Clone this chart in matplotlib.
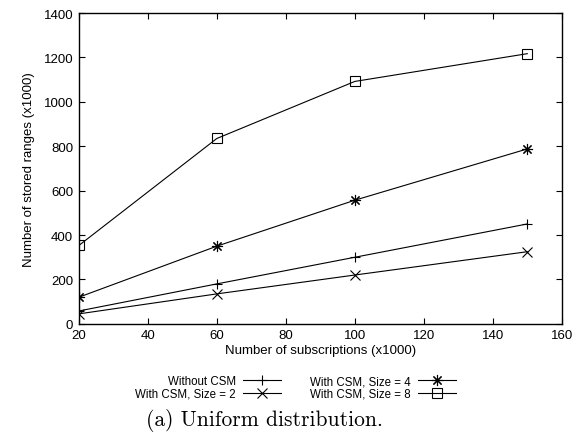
import matplotlib
matplotlib.use("Agg")
import matplotlib.pyplot as plt

# subscriptions (x1000)
subs = [20, 60, 100, 150]

# stored ranges (x1000)
sem_csm = [58, 180, 300, 450]
csm_2 = [45, 135, 220, 325]
csm_4 = [120, 350, 557, 788]
csm_8 = [353, 835, 1092, 1217]

series = [
    ("Without CSM", sem_csm, "+", 7.5),
    ("With CSM, Size = 2", csm_2, "x", 6.5),
    ("With CSM, Size = 4", csm_4, (8, 2, 0), 8),
    ("With CSM, Size = 8", csm_8, "s", 7),
]

plt.rcParams["font.family"] = ["Liberation Sans", "DejaVu Sans"]

fig = plt.figure(figsize=(5.84, 4.39), dpi=100)
ax = fig.add_axes([0.135, 0.26, 0.827, 0.708])

for nome, vals, mk, ms in series:
    ax.plot(subs, vals, color="black", linewidth=0.8, marker=mk,
            markersize=ms, markerfacecolor="none", markeredgecolor="black",
            markeredgewidth=0.8, label=nome)

ax.set_xlim(20, 160)
ax.set_ylim(0, 1400)
ax.set_xticks(range(20, 161, 20))
ax.set_yticks(range(0, 1401, 200))
ax.tick_params(direction="in", length=4, width=0.8, top=True, right=True,
               labelsize=9.5, pad=4)
for s in ax.spines.values():
    s.set_linewidth(1.0)

ax.set_xlabel("Number of subscriptions (x1000)", fontsize=9.5, labelpad=2)
ax.set_ylabel("Number of stored ranges (x1000)", fontsize=9.5, labelpad=6)

# legenda em duas colunas, texto antes da linha (estilo gnuplot)
handles, labels = ax.get_legend_handles_labels()
leg = fig.legend(handles, labels, loc="center", bbox_to_anchor=(0.506, 0.115),
                 ncol=2, frameon=False, markerfirst=False, fontsize=8.3,
                 handlelength=3.3, columnspacing=2.55, labelspacing=0.05,
                 handletextpad=0.6, borderpad=0)

fig.text(0.452, 0.03, "(a) Uniform distribution.", family="cmr10",
         fontsize=15.5, ha="center", va="baseline")

fig.savefig("out.png", dpi=100)
